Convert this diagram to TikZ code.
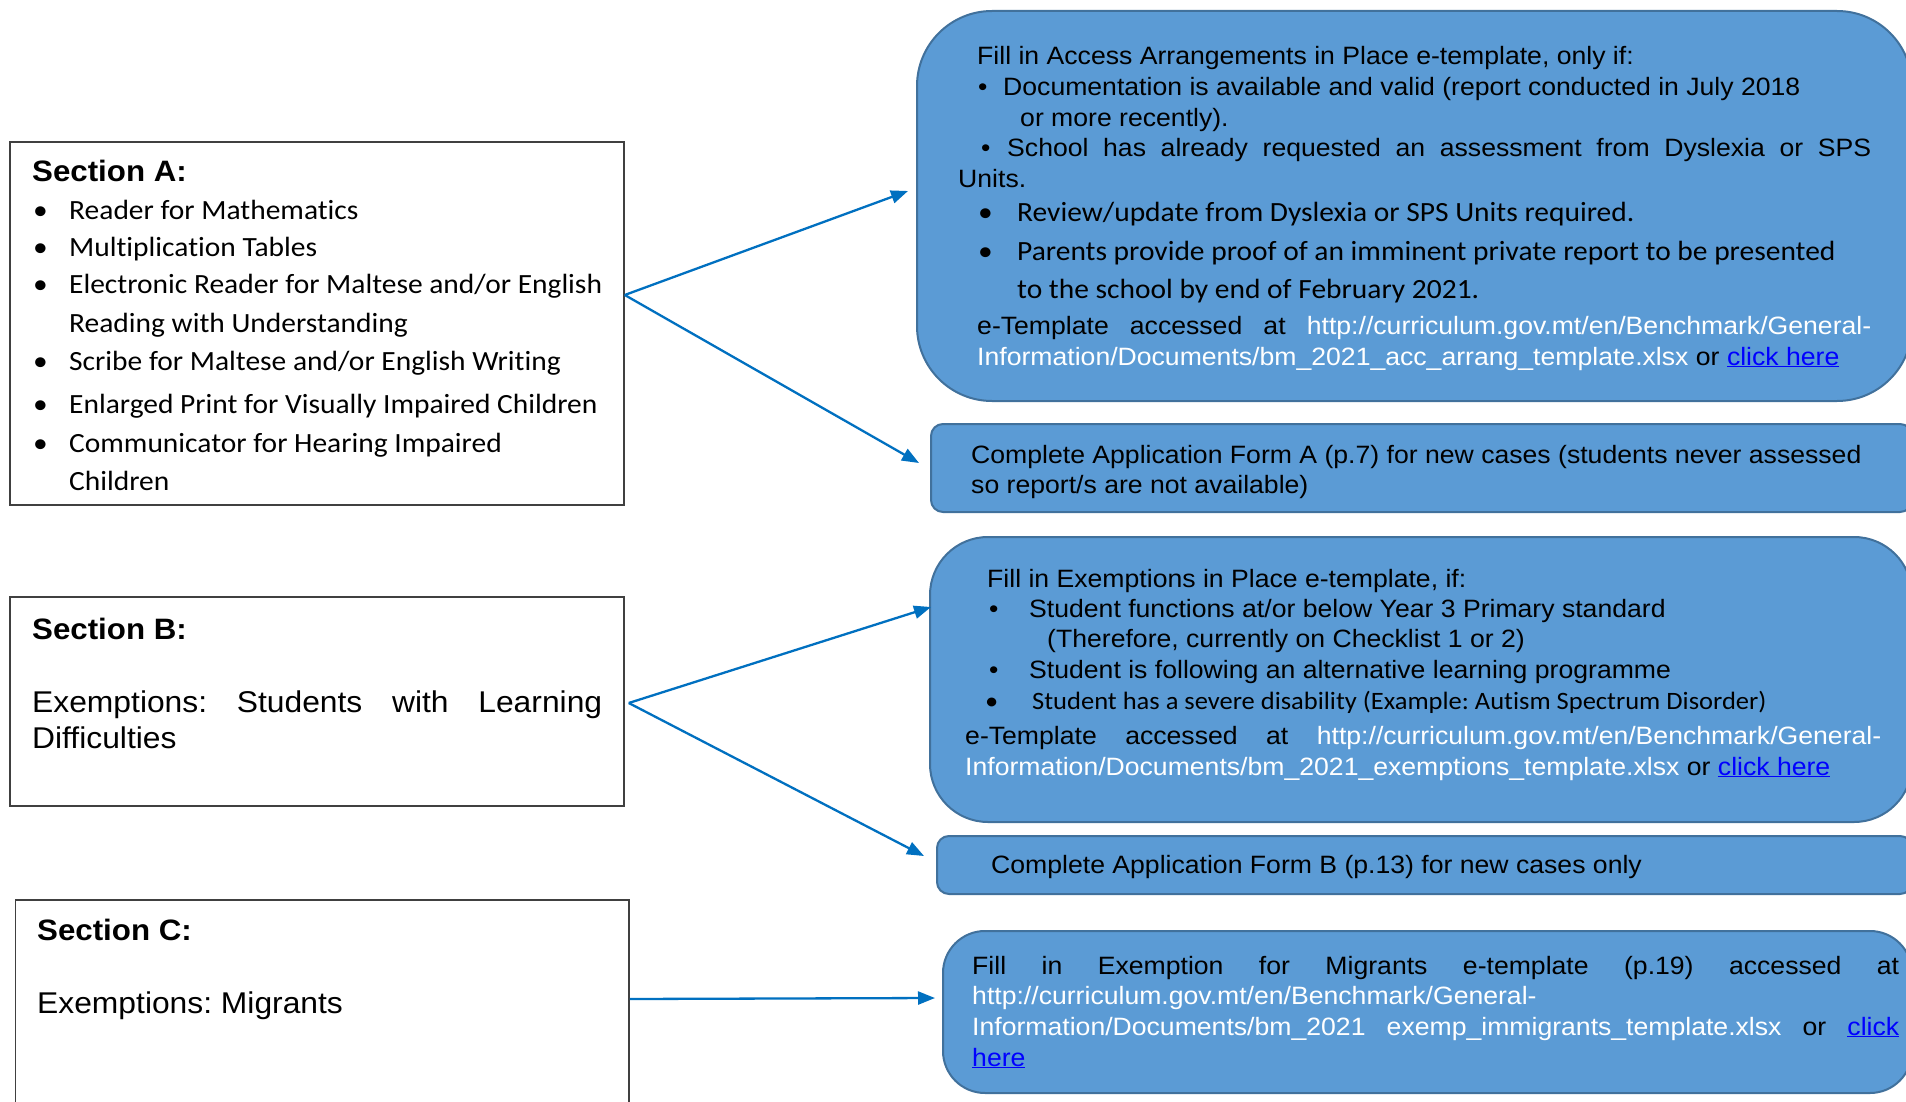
\documentclass[tikz,border=0pt]{standalone}
\usepackage{fontspec}
\setmainfont[FakeStretch=1.06]{Liberation Sans}
\newfontfamily\calfont[FakeStretch=1.06,Ligatures=NoCommon]{Carlito}
\usetikzlibrary{arrows.meta}
\definecolor{boxfill}{HTML}{5B9BD5}
\definecolor{boxline}{HTML}{41719C}
\definecolor{arrowblue}{HTML}{0070C0}
\definecolor{linkblue}{HTML}{0000FF}
\definecolor{sectline}{HTML}{404040}
\newcommand\linkul[1]{\textcolor{linkblue}{\underline{#1}}}
\newcommand\urlw[1]{\textcolor{white}{#1}}
\frenchspacing
\tikzset{
 sect/.style={draw=sectline, line width=1.5pt, fill=white, rectangle, inner sep=0pt},
 bluebox/.style={draw=boxline, line width=2pt, fill=boxfill, rectangle, inner sep=0pt},
 conn/.style={draw=arrowblue, line width=2.3pt, -{Triangle[length=17pt,width=13pt]}},
 txt/.style={anchor=base west, inner sep=0pt, font=\fontsize{25.1}{30}\selectfont},
 ctxt/.style={anchor=base west, inner sep=0pt, font=\calfont\fontsize{27.8}{33}\selectfont},
 ttl/.style={anchor=base west, inner sep=0pt, font=\bfseries\fontsize{29.5}{35}\selectfont},
 big/.style={anchor=base west, inner sep=0pt, font=\fontsize{30}{36}\selectfont},
}
\begin{document}
\frenchspacing
\begin{tikzpicture}[x=1pt,y=-1pt]
\useasboundingbox (0,0) rectangle (1906,1102);
\clip (0,0) rectangle (1906,1102);
\fill[white] (0,0) rectangle (1906,1102);

% left section boxes
\node[sect, minimum width=614pt, minimum height=363pt] (secA) at (317,323.5) {};
\node[sect, minimum width=614pt, minimum height=209pt] (secB) at (317,701.5) {};
\node[sect, minimum width=613.5pt, minimum height=210pt] (secC) at (322.25,1005) {};

% right blue boxes
\node[bluebox, rounded corners=75pt, minimum width=995pt, minimum height=390pt] (box1) at (1414.5,206) {};
\node[bluebox, rounded corners=12pt, minimum width=981pt, minimum height=88pt] (box2) at (1421.5,468) {};
\node[bluebox, rounded corners=58pt, minimum width=982pt, minimum height=285pt] (box3) at (1421,679.5) {};
\node[bluebox, rounded corners=12pt, minimum width=975pt, minimum height=58pt] (box4) at (1424.5,865) {};
\node[bluebox, rounded corners=42pt, minimum width=969pt, minimum height=162pt] (box5) at (1427.5,1012) {};

% Section A text
\node[ttl] (sAt) at (32,182) {Section A:};
\node[ctxt] (sA1) at (33,219) {\makebox[36pt][l]{•}Reader for Mathematics};
\node[ctxt] (sA2) at (33,256) {\makebox[36pt][l]{•}Multiplication Tables};
\node[ctxt] (sA3) at (33,293) {\makebox[36pt][l]{•}Electronic Reader for Maltese and/or English};
\node[ctxt] (sA4) at (69,332) {Reading with Understanding};
\node[ctxt] (sA5) at (33,370) {\makebox[36pt][l]{•}Scribe for Maltese and/or English Writing};
\node[ctxt] (sA6) at (33,413) {\makebox[36pt][l]{•}Enlarged Print for Visually Impaired Children};
\node[ctxt] (sA7) at (33,452) {\makebox[36pt][l]{•}Communicator for Hearing Impaired};
\node[ctxt] (sA8) at (69,490) {Children};

% Section B text
\node[ttl] (sBt) at (32,639) {Section B:};
\node[big] (sB1) at (32,712) {\makebox[570pt][s]{Exemptions: Students with Learning}};
\node[big] (sB2) at (32,748) {Difficulties};

% Section C text
\node[ttl] (sCt) at (37,940) {Section C:};
\node[big] (sC1) at (37,1013) {Exemptions: Migrants};

% Box 1 text
\node[txt] (b1l1) at (977,65) {Fill in Access Arrangements in Place e-template, only if:};
\node[txt] (b1l2) at (978,96) {\makebox[25pt][l]{•}Documentation is available and valid (report conducted in July 2018};
\node[txt] (b1l3) at (1020,127) {or more recently).};
\node[txt] (b1l4) at (981,157) {\makebox[26pt][l]{•}\makebox[864pt][s]{School has already requested an assessment from Dyslexia or SPS}};
\node[txt] (b1l5) at (958,188) {Units.};
\node[ctxt] (b1l6) at (978,222) {\makebox[39pt][l]{•}Review/update from Dyslexia or SPS Units required.};
\node[ctxt] (b1l7) at (978,260) {\makebox[39pt][l]{•}Parents provide proof of an imminent private report to be presented};
\node[ctxt] (b1l8) at (1017,298) {to the school by end of February 2021.};
\node[txt] (b1l9) at (977,334) {\makebox[894pt][s]{e-Template accessed at \urlw{http://curriculum.gov.mt/en/Benchmark/General-}}};
\node[txt] (b1l10) at (977,365) {\urlw{Information/Documents/bm\_2021\_acc\_arrang\_template.xlsx} or \linkul{click here}};

% Box 2 text
\node[txt] (b2l1) at (971,463) {Complete Application Form A (p.7) for new cases (students never assessed};
\node[txt] (b2l2) at (971,493) {so report/s are not available)};

% Box 3 text
\node[txt] (b3l1) at (987,587) {Fill in Exemptions in Place e-template, if:};
\node[txt] (b3l2) at (989,617) {\makebox[40pt][l]{•}Student functions at/or below Year 3 Primary standard};
\node[txt] (b3l3) at (1047,647) {(Therefore, currently on Checklist 1 or 2)};
\node[txt] (b3l4) at (989,678) {\makebox[40pt][l]{•}Student is following an alternative learning programme};
\node[ctxt, font=\calfont\fontsize{25}{30}\selectfont] (b3l5) at (985,709) {\makebox[47pt][l]{•}Student has a severe disability (Example: Autism Spectrum Disorder)};
\node[txt] (b3l6) at (965,744) {\makebox[916pt][s]{e-Template accessed at \urlw{http://curriculum.gov.mt/en/Benchmark/General-}}};
\node[txt] (b3l7) at (965,775) {\urlw{Information/Documents/bm\_2021\_exemptions\_template.xlsx} or \linkul{click here}};

% Box 4 text
\node[txt] (b4l1) at (991,873) {Complete Application Form B (p.13) for new cases only};

% Box 5 text
\node[txt] (b5l1) at (972,974) {\makebox[927pt][s]{Fill in Exemption for Migrants e-template (p.19) accessed at}};
\node[txt] (b5l2) at (972,1004) {\urlw{http://curriculum.gov.mt/en/Benchmark/General-}};
\node[txt] (b5l3) at (972,1035) {\makebox[927pt][s]{\urlw{Information/Documents/bm\_2021} \urlw{exemp\_immigrants\_template.xlsx} or \linkul{click}}};
\node[txt] (b5l4) at (972,1066) {\linkul{here}};

% connectors
\draw[conn] ([yshift=28.5pt]secA.east) -- ([xshift=-8pt,yshift=15pt]box1.west);
\draw[conn] ([yshift=28.5pt]secA.east) -- ([xshift=-11pt,yshift=5pt]box2.west);
\draw[conn] ([xshift=4pt,yshift=-1.5pt]secB.east) -- ([xshift=2pt,yshift=72.5pt]box3.west);
\draw[conn] ([xshift=4pt,yshift=-1.5pt]secB.east) -- ([xshift=-12pt,yshift=9pt]box4.west);
\draw[conn] ([yshift=6pt]secC.east) -- ([xshift=-7pt,yshift=14pt]box5.west);
\end{tikzpicture}
\end{document}
